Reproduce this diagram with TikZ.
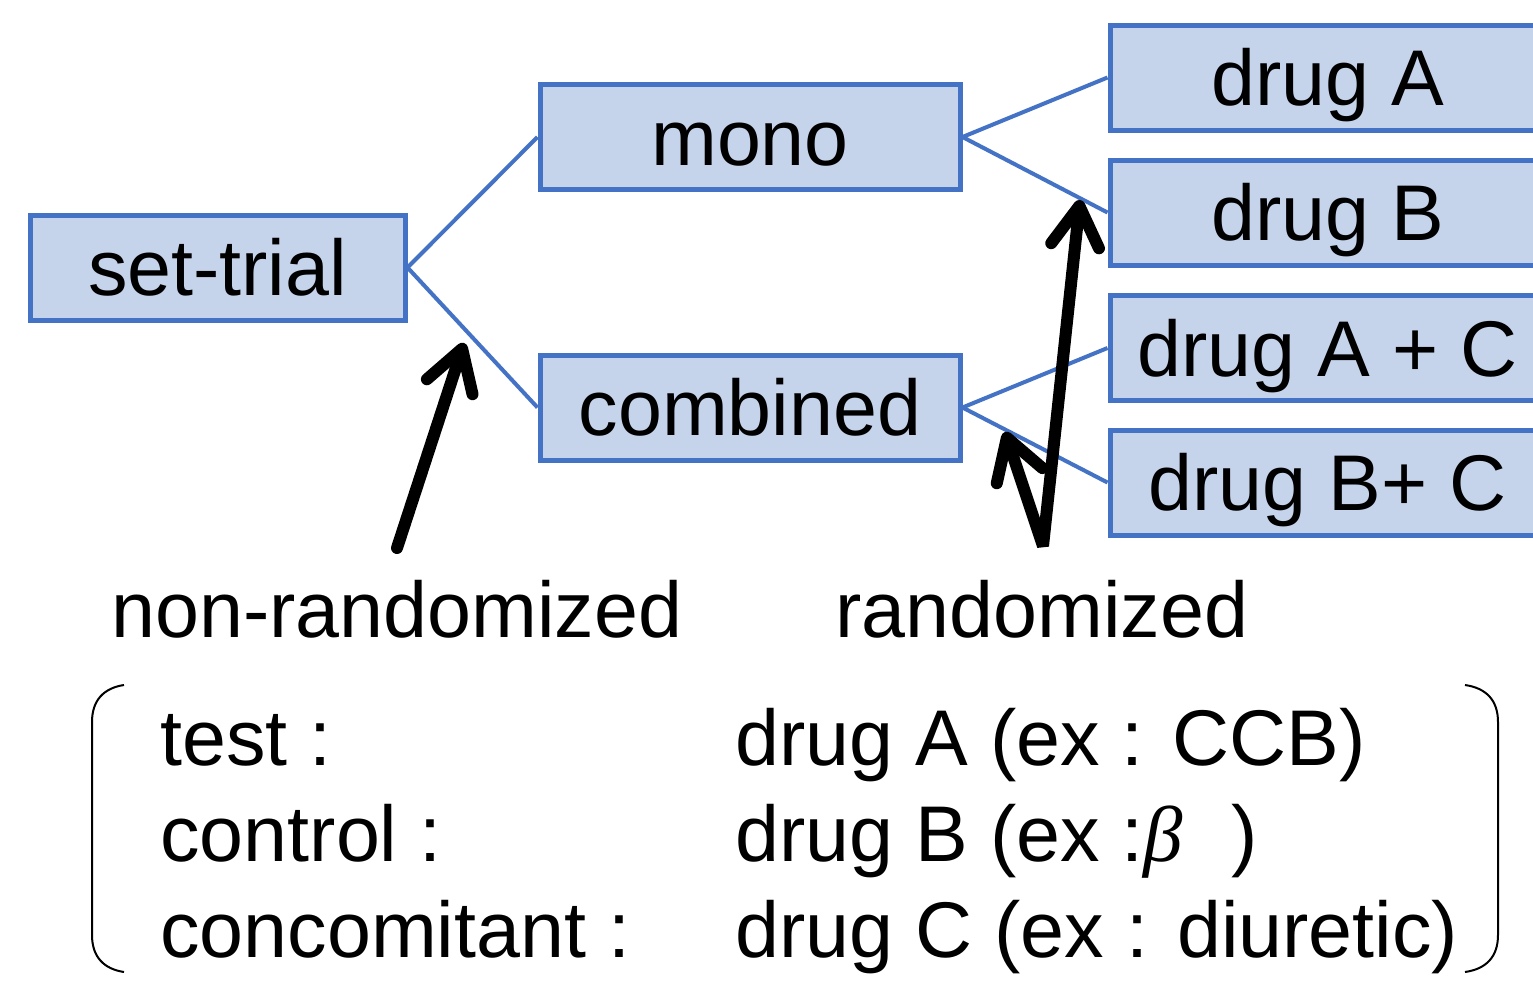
\documentclass[tikz,border=0pt]{standalone}
\usepackage{fontspec}
\setmainfont{Liberation Sans}
\newfontfamily\betafont{Liberation Serif}
\usetikzlibrary{arrows.meta}
\definecolor{boxline}{HTML}{4472C4}
\definecolor{boxfill}{HTML}{C5D3EB}
\newcommand\bigfont{\fontsize{39.5}{46}\selectfont}
\begin{document}
\begin{tikzpicture}[x=0.5pt,y=-0.5pt,
  box/.style={draw=boxline, fill=boxfill, line width=2.5pt, minimum height=52.5pt, inner sep=0pt, text height=28pt, text depth=0pt, font=\bigfont},
  link/.style={draw=boxline, line width=2pt},
  pointer/.style={line width=6pt, line join=bevel, {Straight Barb[length=20pt,width=24pt,line cap=round,line join=round]}-{Straight Barb[length=20pt,width=24pt,line cap=round,line join=round]}},
  single/.style={line width=6pt, line cap=round, -{Straight Barb[length=20pt,width=24pt,line cap=round,line join=round]}},
  lbl/.style={font=\bigfont, inner sep=0pt},
  row/.style={font=\bigfont, inner sep=0pt, anchor=base west},
  bracket/.style={line width=1pt}]
\useasboundingbox (0,0) rectangle (1533,982);
\clip (0,0) rectangle (1533,982);
\fill[white] (0,0) rectangle (1533,982);

\node[box, minimum width=187.5pt] (set) at (217.5,267.5) {set-trial};
\node[box, minimum width=210pt] (mono) at (750,137) {mono};
\node[box, minimum width=210pt] (comb) at (750,407.5) {combined};
\node[box, minimum width=217.5pt] (dA) at (1327.5,77.5) {drug A};
\node[box, minimum width=217.5pt] (dB) at (1327.5,212.5) {drug B};
\node[box, minimum width=217.5pt] (dAC) at (1327.5,348) {drug A + C};
\node[box, minimum width=217.5pt] (dBC) at (1327.5,482.5) {drug B+ C};

\draw[link] (set.east) -- (mono.west);
\draw[link] (set.east) -- (comb.west);
\draw[link] (mono.east) -- (dA.west);
\draw[link] (mono.east) -- (dB.west);
\draw[link] (comb.east) -- (dAC.west);
\draw[link] (comb.east) -- (dBC.west);

\coordinate (a1s) at (397,548);
\coordinate (a1e) at (464,343);
\coordinate (a2a) at (1005,432);
\coordinate (a2m) at (1043,546);
\coordinate (a2b) at (1080,200);
\draw[single] (a1s) -- (a1e);
\draw[pointer] (a2a) -- (a2m) -- (a2b);

\node[lbl, anchor=base] (nr) at (397,637) {non-randomized};
\node[lbl, anchor=base] (rd) at (1042,637) {randomized};

\draw[bracket] (124,685) .. controls (104,688) and (92,700) .. (92,722) -- (92,935) .. controls (92,957) and (104,969) .. (124,972);
\draw[bracket] (1465,685) .. controls (1486,688) and (1498,700) .. (1498,722) -- (1498,935) .. controls (1498,957) and (1486,969) .. (1465,972);

\node[row] (t1) at (160,765) {test :};
\node[row] (t2) at (160,861) {control :};
\node[row] (t3) at (160,957) {concomitant :};
\node[row] (d1) at (735,765) {drug A (ex : CCB)};
\node[row] (d2) at (735,861) {drug B (ex :{\betafont\itshape β}\hspace{24pt})};
\node[row] (d3) at (735,957) {drug C (ex : diuretic)};
\end{tikzpicture}
\end{document}
